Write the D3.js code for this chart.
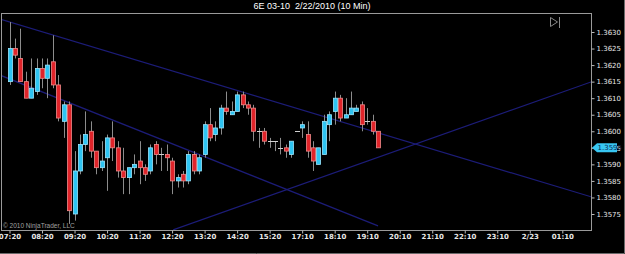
<!DOCTYPE html>
<html lang="en">
  <head>
    <meta charset="UTF-8" />
    <script src="https://d3js.org/d3.v7.min.js"></script>
    <title>6E 03-10</title>
    <style>
      body { margin: 0; background: #000; }
      svg { display: block; font-family: 'Liberation Sans', Arial, sans-serif; }
    </style>
  </head>
  <body>
  <script>
    // 10 min bars, 2/22/2010, index 0 = 07:20
    const opens = [1.3615,1.3625,1.3622,1.3615,1.3610,1.3612,1.3619,1.3616,1.3621,1.3614,
      1.3603,1.3608,1.3575,1.3588,1.3596,1.3600,1.3594,1.3589,1.3592,1.3598,
      1.3595,1.3588,1.3586,1.3589,1.3591,1.3589,1.3588,1.3596,1.3593,1.3593,
      1.3591,1.3585,1.3587,1.3585,1.3593,1.3588,1.3593,1.3602,1.3599,1.3601,
      1.3607,1.3605,1.3606,1.3611,1.3608,1.3607,1.3600,1.3600,1.3597,1.3597,
      1.3595,1.3595,1.3593,1.3600,1.3601,1.3599,1.3595,1.3590,1.3593,1.3602,
      1.3606,1.3610,1.3604,1.3605,1.3606,1.3608,1.3603,1.3603,1.3600]
    const highs = [1.3633,1.3628,1.3631,1.3618,1.3622,1.3622,1.3622,1.3622,1.3629,1.3617,
      1.3609,1.3609,1.3594,1.3599,1.3606,1.3603,1.3594,1.3597,1.3599,1.3603,
      1.3597,1.3595,1.3589,1.3593,1.3597,1.3590,1.3596,1.3597,1.3595,1.3596,
      1.3592,1.3587,1.3588,1.3594,1.3594,1.3593,1.3603,1.3607,1.3603,1.3608,
      1.3612,1.3609,1.3612,1.3612,1.3609,1.3608,1.3601,1.3601,1.3598,1.3597,
      1.3598,1.3596,1.3597,1.3600,1.3603,1.3603,1.3597,1.3595,1.3605,1.3606,
      1.3612,1.3611,1.3610,1.3612,1.3608,1.3609,1.3607,1.3605,1.3600]
    const lows = [1.3614,1.3622,1.3615,1.3610,1.3610,1.3611,1.3613,1.3610,1.3613,1.3603,
      1.3598,1.3572,1.3573,1.3587,1.3594,1.3592,1.3587,1.3588,1.3582,1.3591,
      1.3586,1.3581,1.3581,1.3587,1.3584,1.3585,1.3587,1.3590,1.3588,1.3588,
      1.3581,1.3583,1.3583,1.3584,1.3587,1.3587,1.3592,1.3597,1.3597,1.3599,
      1.3605,1.3605,1.3606,1.3607,1.3605,1.3597,1.3595,1.3596,1.3595,1.3594,
      1.3593,1.3592,1.3592,1.3600,1.3598,1.3592,1.3588,1.3590,1.3593,1.3597,
      1.3602,1.3603,1.3604,1.3605,1.3606,1.3600,1.3602,1.3599,1.3595]
    const closes = [1.3625,1.3623,1.3615,1.3610,1.3613,1.3619,1.3616,1.3620,1.3614,1.3604,
      1.3608,1.3576,1.3588,1.3596,1.3599,1.3594,1.3589,1.3591,1.3598,1.3595,
      1.3588,1.3586,1.3589,1.3590,1.3589,1.3587,1.3595,1.3593,1.3593,1.3592,
      1.3585,1.3586,1.3585,1.3593,1.3588,1.3592,1.3602,1.3598,1.3601,1.3607,
      1.3606,1.3606,1.3611,1.3608,1.3607,1.3600,1.3600,1.3597,1.3597,1.3597,
      1.3595,1.3594,1.3597,1.3600,1.3602,1.3594,1.3591,1.3595,1.3603,1.3605,
      1.3610,1.3604,1.3605,1.3607,1.3607,1.3602,1.3603,1.3600,1.3595]

    // time axis labels, one every 6 bars
    const timeLabels = ['07:20','08:20','09:20','10:20','11:20','12:20','13:20','14:20','15:20',
      '17:10','18:10','19:10','20:10','21:10','22:10','23:10','2/23','01:10']
    const priceTicks = [1.3575,1.3580,1.3585,1.3590,1.3595,1.3600,1.3605,1.3610,1.3615,1.3620,1.3625,1.3630]
    const lastPrice = 1.3595

    // drawn trend lines, [bar index, price]
    const trendLines = [
      [[-1.8, 1.36339], [107.3, 1.35802]],
      [[-1.8, 1.36170], [68.0, 1.35714]],
      [[30.2, 1.35702], [107.3, 1.36149]]
    ]

    const W = 625, H = 254
    const frame = { left: 1, top: 13, right: 591, bottom: 230 }

    const svg = d3.select('body').append('svg').attr('width', W).attr('height', H)
    svg.append('rect').attr('width', W).attr('height', H).attr('fill', '#000')

    const x = d3.scaleLinear().domain([0, 107]).range([9.5, 589.4])
    const y = d3.scaleLinear().domain([1.3575, 1.3630]).range([214, 32])

    svg.append('text')
      .attr('x', 312).attr('y', 9)
      .attr('text-anchor', 'middle')
      .attr('fill', '#fff')
      .style('font-size', '9px')
      .style('white-space', 'pre')
      .text('6E 03-10  2/22/2010 (10 Min)')

    svg.append('clipPath').attr('id', 'plot')
      .append('rect')
      .attr('x', frame.left).attr('y', frame.top)
      .attr('width', frame.right - frame.left).attr('height', frame.bottom - frame.top)

    const plot = svg.append('g').attr('clip-path', 'url(#plot)')

    plot.selectAll('line.trend')
      .data(trendLines)
      .enter()
      .append('line')
      .attr('class', 'trend')
      .attr('x1', (d) => x(d[0][0])).attr('y1', (d) => y(d[0][1]))
      .attr('x2', (d) => x(d[1][0])).attr('y2', (d) => y(d[1][1]))
      .attr('stroke', '#1c1c78')
      .attr('stroke-width', 1.2)

    const bars = opens.map((o, i) => ({ i, o, h: highs[i], l: lows[i], c: closes[i] }))

    plot.selectAll('line.wick')
      .data(bars)
      .enter()
      .append('line')
      .attr('class', 'wick')
      .attr('x1', (d) => Math.round(x(d.i)) + 0.5).attr('x2', (d) => Math.round(x(d.i)) + 0.5)
      .attr('y1', (d) => y(d.h)).attr('y2', (d) => y(d.l))
      .attr('stroke', '#8c8c8c')

    plot.selectAll('rect.body')
      .data(bars.filter((d) => d.o !== d.c))
      .enter()
      .append('rect')
      .attr('class', 'body')
      .attr('x', (d) => Math.round(x(d.i)) - 1.5)
      .attr('width', 4)
      .attr('y', (d) => y(Math.max(d.o, d.c)))
      .attr('height', (d) => Math.abs(y(d.o) - y(d.c)))
      .attr('fill', (d) => (d.c > d.o ? '#2ec4f2' : '#e0242a'))
      .attr('stroke', (d) => (d.c > d.o ? '#9ae6ff' : '#f08a8a'))
      .attr('stroke-width', 0.8)

    plot.selectAll('line.doji')
      .data(bars.filter((d) => d.o === d.c))
      .enter()
      .append('line')
      .attr('class', 'doji')
      .attr('x1', (d) => Math.round(x(d.i)) - 2).attr('x2', (d) => Math.round(x(d.i)) + 3)
      .attr('y1', (d) => Math.round(y(d.c)) + 0.5).attr('y2', (d) => Math.round(y(d.c)) + 0.5)
      .attr('stroke', '#d0d0d0')

    // frame
    svg.append('rect')
      .attr('x', frame.left + 0.5).attr('y', frame.top + 0.5)
      .attr('width', frame.right - frame.left).attr('height', frame.bottom - frame.top)
      .attr('fill', 'none').attr('stroke', '#9a9a9a')

    // outer border
    svg.append('path')
      .attr('d', `M${W - 0.5},0 V${H - 0.5} H0`)
      .attr('fill', 'none').attr('stroke', '#6a6a6a')

    // right price axis
    const yAxis = svg.append('g').attr('transform', `translate(${frame.right + 0.5},0)`)
      .call(d3.axisRight(y).tickValues(priceTicks).tickSize(3).tickPadding(2).tickFormat(d3.format('.4f')))
    yAxis.select('.domain').remove()
    yAxis.selectAll('line').attr('stroke', '#bbb')
    yAxis.selectAll('text').attr('fill', '#e8e8e8').style('font-size', '7px')
      .style('font-family', "'DejaVu Sans', sans-serif")

    // last price marker
    const lp = svg.append('g').attr('transform', `translate(${frame.right + 1},${y(lastPrice)})`)
    lp.append('path')
      .attr('d', 'M0,0 L5,-4.5 H25 V4.5 H5 Z')
      .attr('fill', '#38c6f2')
    lp.append('text')
      .attr('x', 5.5).attr('y', 2.5)
      .attr('fill', '#0a2a58')
      .style('font-size', '7px')
      .style('font-family', "'DejaVu Sans', sans-serif")
      .text(d3.format('.4f')(lastPrice))

    // bottom time axis
    const xAxis = svg.append('g').attr('transform', `translate(0,${frame.bottom + 0.5})`)
      .call(d3.axisBottom(x).tickValues(timeLabels.map((t, k) => k * 6)).tickSize(3).tickPadding(1)
        .tickFormat((d) => timeLabels[d / 6]))
    xAxis.select('.domain').remove()
    xAxis.selectAll('line').attr('stroke', '#bbb')
    xAxis.selectAll('text').attr('fill', '#e8e8e8').style('font-size', '7px')
      .style('font-weight', 'bold')
      .style('font-family', "'DejaVu Sans', sans-serif")

    // copyright
    svg.append('text')
      .attr('x', 3).attr('y', 228)
      .attr('fill', '#a0a0a0')
      .style('font-size', '6.5px')
      .text('\u00a9 2010 NinjaTrader, LLC')

    // scroll-to-end icon
    const ic = svg.append('g').attr('transform', 'translate(550,17)')
    ic.append('path').attr('d', 'M0.5,0.5 L7.5,5 L0.5,9.5 Z').attr('fill', 'none').attr('stroke', '#888')
    ic.append('line').attr('x1', 9.5).attr('x2', 9.5).attr('y1', 0).attr('y2', 11).attr('stroke', '#888')
  </script>
  </body>
</html>
